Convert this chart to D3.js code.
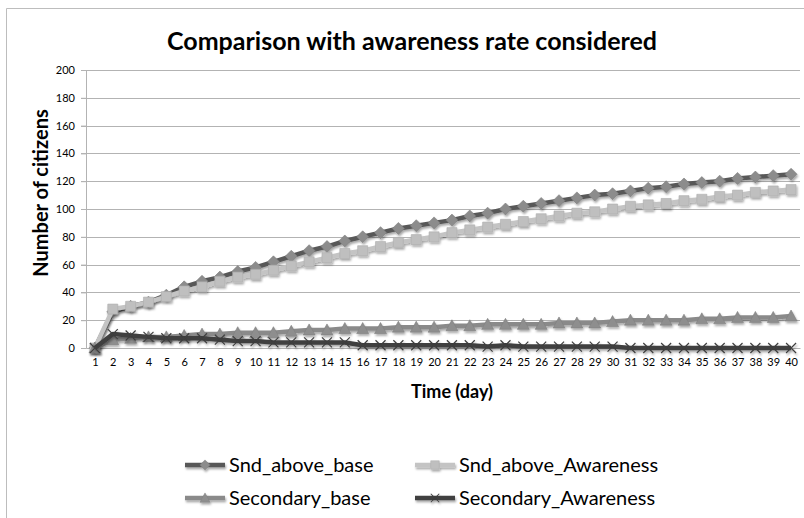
<!DOCTYPE html>
<html>
<head>
<meta charset="utf-8">
<script src="https://cdn.jsdelivr.net/npm/d3@7"></script>
<style>
  body { margin: 0; background: #fff; }
  text { font-family: Lato, "Open Sans", sans-serif; fill: #000; }
</style>
</head>
<body>
<div id="chart"></div>
<script>
var svgWidth = 804
var svgHeight = 518

// chart values
var days = d3.range(1, 41)
var yTicks = [0, 20, 40, 60, 80, 100, 120, 140, 160, 180, 200]

var sndAboveBase = [0, 26, 30, 33, 38, 44, 48, 51, 55, 58, 62, 66, 70, 73, 77, 80, 83, 86, 88, 90,
  92, 95, 97, 100, 102, 104, 106, 108, 110, 111, 113, 115, 116, 118, 119, 120, 122, 123, 124, 125]
var sndAboveAwareness = [0, 28, 30, 33, 37, 41, 44, 48, 51, 53, 56, 59, 62, 65, 68, 70, 73, 76, 78, 80,
  83, 85, 87, 89, 91, 93, 95, 97, 98, 100, 102, 103, 104, 106, 107, 109, 110, 112, 113, 114]
var secondaryBase = [0, 6, 7, 8, 8, 9, 10, 10, 11, 11, 11, 12, 13, 13, 14, 14, 14, 15, 15, 15,
  16, 16, 17, 17, 17, 17, 18, 18, 18, 19, 20, 20, 20, 20, 21, 21, 22, 22, 22, 23]
var secondaryAwareness = [0, 10, 9, 8, 7, 7, 7, 6, 5, 5, 4, 4, 4, 4, 4, 2, 2, 2, 2, 2,
  2, 2, 1, 2, 1, 1, 1, 1, 1, 1, 0, 0, 0, 0, 0, 0, 0, 0, 0, 0]

var seriesNames = ["Snd_above_base", "Snd_above_Awareness", "Secondary_base", "Secondary_Awareness"]

var series = [
  {name: seriesNames[0], values: sndAboveBase, line: "#595959", fill: "#8c8c8c", marker: "diamond"},
  {name: seriesNames[1], values: sndAboveAwareness, line: "#c4c4c4", fill: "#bfbfbf", marker: "square"},
  {name: seriesNames[2], values: secondaryBase, line: "#8a8a8a", fill: "#8e8e8e", marker: "triangle"},
  {name: seriesNames[3], values: secondaryAwareness, line: "#3f3f3f", fill: "#555", marker: "cross"}
]

var margin = {top: 70, right: 4, bottom: 170, left: 86}
var width = svgWidth - margin.left - margin.right
var height = svgHeight - margin.top - margin.bottom

var svg = d3.select("#chart")
  .append("svg")
  .attr("width", svgWidth)
  .attr("height", svgHeight)

var defs = svg.append("defs")
defs.append("filter").attr("id", "shadow")
  .attr("x", "-50%").attr("y", "-50%").attr("width", "200%").attr("height", "200%")
  .append("feDropShadow")
  .attr("dx", 1).attr("dy", 2).attr("stdDeviation", 1.2)
  .attr("flood-color", "#000").attr("flood-opacity", 0.35)

// outer chart border
svg.append("path")
  .attr("d", "M6.5," + svgHeight + "V8.5H" + svgWidth)
  .attr("fill", "none")
  .attr("stroke", "#bdbdbd")
  .attr("stroke-width", 1)

// title
svg.append("text")
  .attr("x", 412)
  .attr("y", 50)
  .attr("text-anchor", "middle")
  .attr("font-size", "25px")
  .attr("font-weight", "bold")
  .text("Comparison with awareness rate considered")

var chartgroup = svg.append("g")
  .attr("transform", "translate(" + margin.left + "," + margin.top + ")")

var x = d3.scalePoint()
  .domain(days)
  .range([0, width])
  .padding(0.5)

var y = d3.scaleLinear()
  .domain([0, 200])
  .range([height, 0])

// gridlines
chartgroup.append("g")
  .selectAll("line")
  .data(yTicks.slice(1))
  .enter()
  .append("line")
    .attr("x1", -5)
    .attr("x2", width)
    .attr("y1", d => Math.round(y(d)) + 0.5)
    .attr("y2", d => Math.round(y(d)) + 0.5)
    .attr("stroke", "#b3b3b3")

// y axis
var yAxis = chartgroup.append("g")
  .call(d3.axisLeft(y).tickValues(yTicks).tickSize(5).tickPadding(6))
yAxis.select(".domain").attr("stroke", "#b3b3b3")
yAxis.selectAll(".tick line").attr("stroke", "#b3b3b3")
yAxis.selectAll(".tick text").attr("font-size", "11px").attr("font-family", "Lato, sans-serif")

// x axis
var xAxis = chartgroup.append("g")
  .attr("transform", "translate(0," + height + ")")
  .call(d3.axisBottom(x).tickSize(0).tickPadding(10))
xAxis.select(".domain").attr("stroke", "#b3b3b3")
xAxis.selectAll(".tick text").attr("font-size", "11px").attr("font-family", "Lato, sans-serif")

// axis titles
chartgroup.append("text")
  .attr("transform", "rotate(-90)")
  .attr("x", -(height / 2) + 16)
  .attr("y", -38)
  .attr("text-anchor", "middle")
  .attr("font-size", "20px")
  .attr("font-weight", "bold")
  .text("Number of citizens")

chartgroup.append("text")
  .attr("x", 366)
  .attr("y", height + 50)
  .attr("text-anchor", "middle")
  .attr("font-size", "18px")
  .attr("font-weight", "bold")
  .text("Time (day)")

function markerPath(type) {
  if (type == "diamond") return "M0,-6L6,0L0,6L-6,0Z"
  if (type == "square") return "M-5,-5H5V5H-5Z"
  if (type == "triangle") return "M0,-6L6,5H-6Z"
  return "M-5,-5L5,5M-5,5L5,-5"
}

function drawMarker(g, type, s, k) {
  var p = g.append("path").attr("d", markerPath(type))
    .attr("transform", "scale(" + (k || 1) + ")")
  if (type == "cross") {
    p.attr("fill", "none").attr("stroke", s.line).attr("stroke-width", 1.2)
  } else {
    p.attr("fill", s.fill).attr("stroke", d3.color(s.fill).darker(0.3)).attr("stroke-width", 0.6)
  }
  return p
}

var line = d3.line()
  .x((d, i) => x(days[i]))
  .y(d => y(d))

series.forEach(function(s) {
  var g = chartgroup.append("g").attr("filter", "url(#shadow)")
  g.append("path")
    .datum(s.values)
    .attr("d", line)
    .attr("fill", "none")
    .attr("stroke", s.line)
    .attr("stroke-width", 4.5)
    .attr("stroke-linejoin", "round")

  g.selectAll(".pt")
    .data(s.values)
    .enter()
    .append("g")
      .attr("class", "pt")
      .attr("transform", (d, i) => "translate(" + x(days[i]) + "," + y(d) + ")")
      .each(function() { drawMarker(d3.select(this), s.marker, s) })
})

// legend
var legendPos = [[185, 465], [415, 465], [185, 498], [415, 498]]
series.forEach(function(s, i) {
  var lg = svg.append("g")
    .attr("transform", "translate(" + legendPos[i][0] + "," + legendPos[i][1] + ")")
  var mg = lg.append("g").attr("filter", "url(#shadow)")
  mg.append("line")
    .attr("x1", 0).attr("x2", 40)
    .attr("stroke", s.line)
    .attr("stroke-width", 4.5)
  var m = mg.append("g").attr("transform", "translate(20,0)")
  drawMarker(m, s.marker, s, 0.85)
  lg.append("text")
    .attr("x", 44)
    .attr("y", 7)
    .attr("font-size", "20px")
    .text(s.name)
})
</script>
</body>
</html>
